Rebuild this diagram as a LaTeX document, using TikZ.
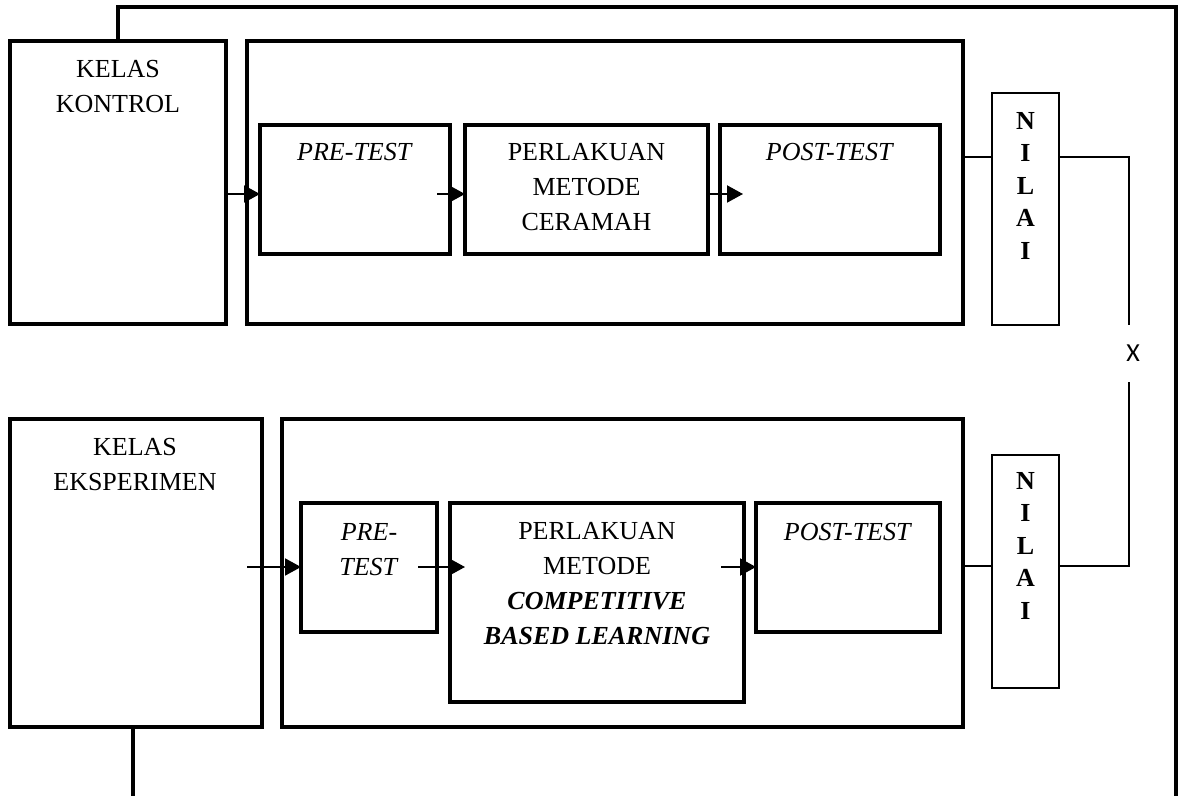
\documentclass[tikz,border=0pt]{standalone}
\usepackage{fontspec}
\setmainfont{Liberation Serif}
\newfontfamily\xfont{Carlito}
\usetikzlibrary{arrows.meta,calc}
\begin{document}
\begin{tikzpicture}[x=0.5pt,y=-0.5pt,
 box/.style={draw,line width=1.7pt,inner sep=0,outer sep=0},
 nbox/.style={draw,line width=1pt,inner sep=0,outer sep=0,minimum width=33.5pt},
 txt/.style={inner sep=0,anchor=north,align=center,font=\fontsize{13}{17.5}\selectfont},
 ntxt/.style={inner sep=0,anchor=north,align=center,font=\fontsize{13}{16.2}\selectfont\bfseries},
 arr/.style={line width=1pt,-{Triangle[length=8pt,width=8.5pt]}},
 thinline/.style={line width=0.7pt},
 loopline/.style={line width=1.6pt}]
\useasboundingbox (0,0) rectangle (1181,796);

% boxes
\node[box,minimum width=108pt,minimum height=141.5pt] (kk) at (118,182.5) {};
\node[box,minimum width=358pt,minimum height=141.5pt] (ko) at (605,182.5) {};
\node[box,minimum width=95pt,minimum height=64.5pt] (pk) at (355,189.5) {};
\node[box,minimum width=121.5pt,minimum height=64.5pt] (mk) at (586.5,189.5) {};
\node[box,minimum width=110pt,minimum height=64.5pt] (qk) at (830,189.5) {};
\node[nbox,minimum height=116pt] (nk) at (1025.5,209) {};

\node[box,minimum width=126pt,minimum height=154pt] (ke) at (136,573) {};
\node[box,minimum width=340.5pt,minimum height=154pt] (eo) at (622.5,573) {};
\node[box,minimum width=68pt,minimum height=64.5pt] (pe) at (369,567.5) {};
\node[box,minimum width=147pt,minimum height=99.5pt] (me) at (597,602.5) {};
\node[box,minimum width=92pt,minimum height=64.5pt] (qe) at (848,567.5) {};
\node[nbox,minimum height=116.5pt] (ne) at (1025.5,571.5) {};

% texts
\node[txt] (tkk) at (118,60) {KELAS\\KONTROL};
\node[txt] (tpk) at (355,143) {\textit{PRE-TEST}};
\node[txt] (tmk) at (586.5,143) {PERLAKUAN\\METODE\\CERAMAH};
\node[txt] (tqk) at (830,143) {\textit{POST-TEST}};
\node[ntxt] (tnk) at (1025.5,112) {N\\I\\L\\A\\I};

\node[txt] (tke) at (135,438) {KELAS\\EKSPERIMEN};
\node[txt] (tpe) at (369,523) {\textit{PRE-}\\\textit{TEST}};
\node[txt] (tme) at (597,522) {PERLAKUAN\\METODE\\\textbf{\textit{COMPETITIVE}}\\\textbf{\textit{BASED LEARNING}}};
\node[txt] (tqe) at (848,523) {\textit{POST-TEST}};
\node[ntxt] (tne) at (1025.5,472) {N\\I\\L\\A\\I};

\node[font=\xfont\fontsize{13}{15}\selectfont,inner sep=0] (xl) at (1133,353) {X};

% outer loop
\coordinate (tr) at (1176,7);
\coordinate (br) at (1176,796);
\coordinate (bl) at (133,796);
\draw[loopline] (kk.north) |- (tr) -- (br);
\draw[loopline] (bl |- ke.south) -- (bl);

% arrows
\coordinate (yk) at (0,194);
\coordinate (ye) at (0,567);
\draw[arr] (kk.east |- yk) -- (pk.west |- yk);
\draw[arr] ($(pk.east |- yk)+(-13,0)$) -- (mk.west |- yk);
\draw[arr] (mk.east |- yk) -- ($(qk.west |- yk)+(23,0)$);
\draw[arr] ($(ke.east |- ye)+(-15,0)$) -- (pe.west |- ye);
\draw[arr] ($(pe.east |- ye)+(-19,0)$) -- ($(me.west |- ye)+(15,0)$);
\draw[arr] ($(me.east |- ye)+(-23,0)$) -- (qe.west |- ye);

% nilai connectors
\coordinate (nyk) at (0,157);
\coordinate (nye) at (0,566);
\coordinate (xt) at (1129,325);
\coordinate (xb) at (1129,382);
\draw[thinline] (ko.east |- nyk) -- (nk.west |- nyk);
\draw[thinline] (nk.east |- nyk) -| (xt);
\draw[thinline] (xb) |- (ne.east |- nye);
\draw[thinline] (eo.east |- nye) -- (ne.west |- nye);
\end{tikzpicture}
\end{document}
